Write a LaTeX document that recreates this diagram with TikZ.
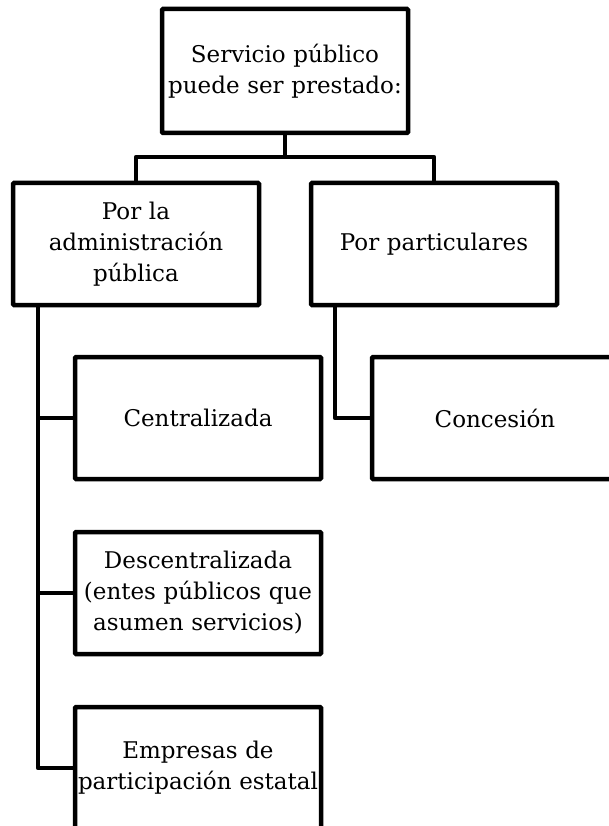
\documentclass[tikz,border=0pt]{standalone}
\usepackage{fontspec}
\setmainfont{DejaVu Serif}
\usetikzlibrary{positioning}
\tikzset{box/.style={rectangle, draw=black, line width=4.5pt,
    rounded corners=1pt, fill=white, text centered, align=center,
    text width=242pt, inner xsep=2pt, outer sep=0pt, minimum height=122pt,
    font=\fontsize{23}{31}\selectfont},
  link/.style={-, line width=4.5pt, line join=round}
}
\begin{document}
\begin{tikzpicture}[node distance=53pt]

   \useasboundingbox (0,0) rectangle (608pt,-826pt);

   %Top node
   \node (serv) [box, minimum height=124pt] at (285pt,-71pt)
   {Servicio público\\ puede ser prestado:};

   %Second level
   \node (admin) [box, below left=50pt and 26pt of serv.south, anchor=north east]
   {Por la\\ administración\\ pública};
   \node (partic) [box, below right=50pt and 26pt of serv.south, anchor=north west]
   {Por particulares};

   %Children of admin
   \node (central) [box, below right=52pt and 62pt of admin.south west, anchor=north west]
   {Centralizada};
   \node (descen) [box, below=of central]
   {Descentralizada\\ (entes públicos que\\ asumen servicios)};
   \node (empresas) [box, below=of descen]
   {Empresas de\\ participación estatal};

   %Child of partic
   \node (conces) [box, below right=52pt and 61pt of partic.south west, anchor=north west]
   {Concesión};

   \draw[link] (serv.south) -- ++(0,-24pt) -| (admin.north);
   \draw[link] (serv.south) -- ++(0,-24pt) -| (partic.north);

   % spines hanging from the second level
   \coordinate (spineA) at ([xshift=25pt]admin.south west);
   \coordinate (spineB) at ([xshift=24pt]partic.south west);
   \foreach \n in {central,descen,empresas}
      \draw[link] (spineA) |- (\n.west);
   \draw[link] (spineB) |- (conces.west);

\end{tikzpicture}
\end{document}
